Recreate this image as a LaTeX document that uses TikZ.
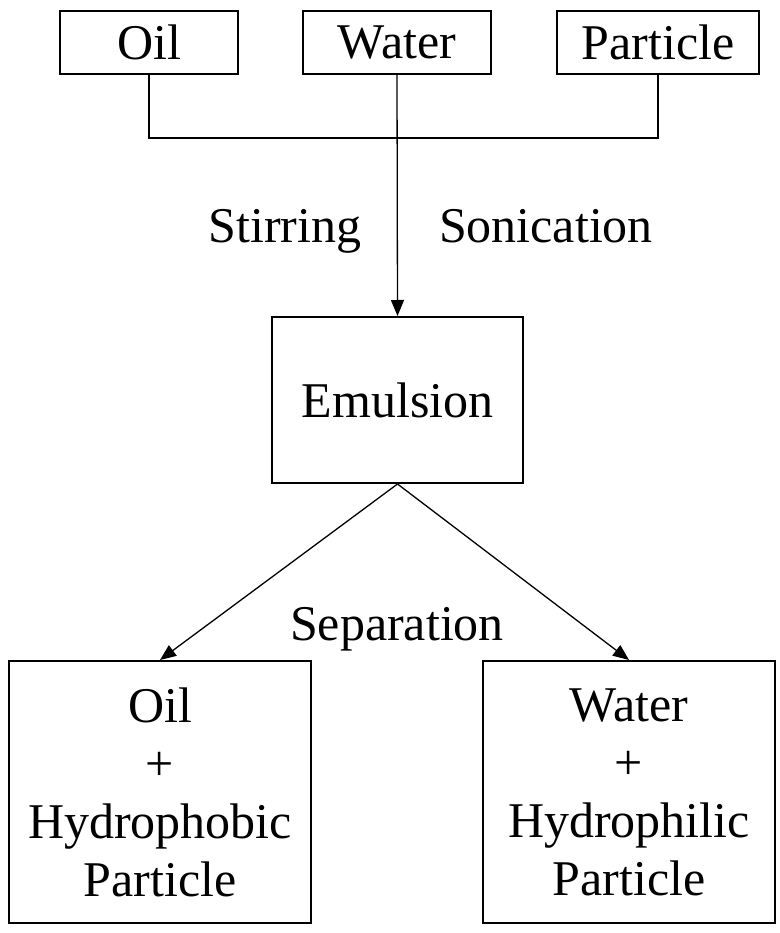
\documentclass[tikz,border=0pt]{standalone}
\usepackage{fontspec}
\setmainfont{Liberation Serif}
\usetikzlibrary{arrows.meta}

\begin{document}
\begin{tikzpicture}[
	x=1pt,
	y=-1pt,
	box/.style={
		rectangle,
		draw=black,
		line width=2pt,
		inner sep=0pt,
		align=center
		},
	arr/.style={
		line width=1.3pt,
		-{Triangle[length=16pt,width=13pt]}
	},
	proc/.style={
		anchor=base
	},
	every node/.style={font=\fontsize{50}{58}\selectfont}
]
\useasboundingbox (0,0) rectangle (779,933);

% Ingredients
\node [box, minimum width=178pt, minimum height=63pt] (Oil) at (149,42.5) {Oil};
\node [box, minimum width=188pt, minimum height=63pt] (Water) at (397,42.5) {Water};
\node [box, minimum width=202pt, minimum height=63pt] (Particle) at (658,42.5) {Particle};

% Mixing
\coordinate (Level) at (0,138);
\draw [line width=1.8pt] (Oil.south) -- (Oil.south |- Level) -- (Particle.south |- Level) -- (Particle.south);
\node [box, minimum width=251pt, minimum height=166pt] (Emulsion) at (397.5,400) {Emulsion};
\draw [arr] (Water.south) -- (Emulsion.north);
\node [proc] (Stirring) at (285,242) {Stirring};
\node [proc] (Sonication) at (546,242) {Sonication};

% Phases
\node [box, minimum width=302pt, minimum height=262pt] (OilPhase) at (160,792) {Oil\\+\\Hydrophobic\\Particle};
\node [box, minimum width=292pt, minimum height=262pt] (WaterPhase) at (629,792) {Water\\+\\Hydrophilic\\Particle};
\draw [arr] (Emulsion.south) -- (OilPhase.north);
\draw [arr] (Emulsion.south) -- (WaterPhase.north);
\node [proc] (Separation) at (397,640) {Separation};

\end{tikzpicture}
\end{document}
